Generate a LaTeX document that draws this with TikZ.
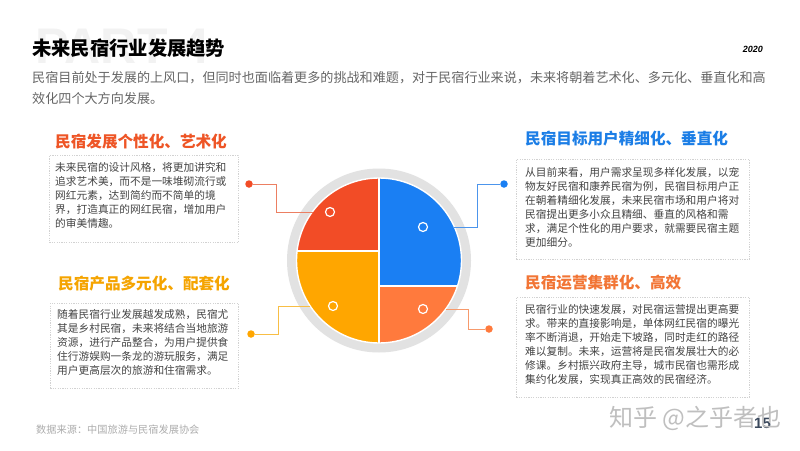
\documentclass[tikz,border=0pt]{standalone}
\usepackage{fontspec}
\setmainfont{Noto Sans CJK SC}
\newfontfamily\lat{Liberation Sans}
\definecolor{pred}{HTML}{F24C26}
\definecolor{pblue}{HTML}{1A7FF3}
\definecolor{pyellow}{HTML}{FFA600}
\definecolor{porange}{HTML}{FF7A3D}
\definecolor{cred}{HTML}{EC7F62}
\definecolor{cblue}{HTML}{4C95EC}
\definecolor{cyellow}{HTML}{F8BE45}
\definecolor{corange}{HTML}{F79A6C}
\definecolor{tred}{HTML}{EE5526}
\definecolor{tblue}{HTML}{1C7EE6}
\definecolor{tyellow}{HTML}{F5A400}
\definecolor{torange}{HTML}{F27535}
\definecolor{ringgray}{HTML}{E2E2E2}
\definecolor{bodygray}{HTML}{444444}
\definecolor{subgray}{HTML}{666666}
\definecolor{boxgray}{HTML}{D2D2D2}
\tikzset{
  body/.style={anchor=base west, inner sep=0pt, text=bodygray},
  sectitle/.style={anchor=base west, inner sep=0pt, font=\fontsize{15.6}{18}\selectfont\bfseries},
  boxst/.style={draw=boxgray, dash pattern=on 1.2pt off 1.2pt, line width=0.6pt, anchor=north west, inner sep=0pt},
  ringmark/.style={circle, draw=white, line width=1.2pt, minimum size=9pt, inner sep=0pt},
  dotmark/.style={circle, inner sep=0pt, minimum size=7.5pt},
  conn/.style={line width=1pt}
}
\newcommand{\bodytext}[1]{\parbox[t]{260pt}{\fontsize{10.7}{14}\selectfont #1}}
\begin{document}
\begin{tikzpicture}[x=1pt,y=-1pt]
\useasboundingbox (0,0) rectangle (800,450);
\fill[white] (0,0) rectangle (800,450);

% header
\node[anchor=base west, inner sep=0pt, text=black!5, font=\lat\fontsize{50}{50}\selectfont\bfseries] (part) at (35,63) {PART 4};
\node[anchor=base west, inner sep=0pt, font=\fontsize{19.3}{22}\selectfont\bfseries] (title) at (32,55.5) {未来民宿行业发展趋势};
\node[anchor=base east, inner sep=0pt, font=\lat\fontsize{9}{10}\selectfont\bfseries\itshape] (year) at (763,52) {2020};
\node[anchor=base west, inner sep=0pt, text=subgray] (sub) at (32,82) {\parbox[t]{760pt}{\fontsize{13.1}{21}\selectfont 民宿目前处于发展的上风口，但同时也面临着更多的挑战和难题，对于民宿行业来说，未来将朝着艺术化、多元化、垂直化和高\\效化四个大方向发展。}};

% pie
\coordinate (C) at (379,260.5);
\fill[ringgray] (C) circle (92pt);
\begin{scope}
\clip (C) circle (82.5pt);
\fill[pblue] (379,170) rectangle (470,286);
\fill[porange] (379,286) rectangle (470,350);
\fill[pred] (290,170) rectangle (379,251);
\fill[pyellow] (290,251) rectangle (379,350);
\draw[white, line width=1.6pt] (379,170) -- (379,350);
\draw[white, line width=1.6pt] (290,251) -- (379,251);
\draw[white, line width=1.6pt] (379,286) -- (470,286);
\end{scope}
\draw[white, line width=1.4pt] (C) circle (82.5pt);

\node[ringmark] (mr) at (330,212) {};
\node[ringmark] (mb) at (423,227) {};
\node[ringmark] (my) at (333,306) {};
\node[ringmark] (mo) at (423,309) {};

% connectors
\coordinate (er) at (313,212);
\coordinate (kr) at (276,212);
\coordinate (eb) at (454,227);
\coordinate (kb) at (477,227);
\coordinate (ey) at (310,306);
\coordinate (ky) at (278,306);
\coordinate (eo) at (446,309);
\coordinate (ko) at (468,309);

\node[dotmark, fill=pred] (dr) at (249,184) {};
\node[dotmark, fill=pblue] (db) at (504,184) {};
\node[dotmark, fill=pyellow] (dy) at (251,334) {};
\node[dotmark, fill=porange] (do) at (489,329) {};

\draw[conn, cred] (dr) -| (kr) -- (er);
\draw[conn, cblue] (eb) -- (kb) |- (db);
\draw[conn, cyellow] (dy) -| (ky) -- (ey);
\draw[conn, corange] (eo) -- (ko) |- (do);

% left top
\node[sectitle, text=tred] (t1) at (55,147) {民宿发展个性化、艺术化};
\node[boxst, minimum width=189pt, minimum height=87pt] (b1) at (49,155) {};
\node[body] (x1) at (55,171) {\bodytext{未来民宿的设计风格，将更加讲究和\\追求艺术美，而不是一味堆砌流行或\\网红元素，达到简约而不简单的境\\界，打造真正的网红民宿，增加用户\\的审美情趣。}};

% left bottom
\node[sectitle, text=tyellow] (t2) at (58,289) {民宿产品多元化、配套化};
\node[boxst, minimum width=188pt, minimum height=85pt] (b2) at (50,303) {};
\node[body] (x2) at (57,318) {\bodytext{随着民宿行业发展越发成熟，民宿尤\\其是乡村民宿，未来将结合当地旅游\\资源，进行产品整合，为用户提供食\\住行游娱购一条龙的游玩服务，满足\\用户更高层次的旅游和住宿需求。}};

% right top
\node[sectitle, text=tblue] (t3) at (525,144) {民宿目标用户精细化、垂直化};
\node[boxst, minimum width=233pt, minimum height=100pt] (b3) at (516,159) {};
\node[body] (x3) at (525,176) {\bodytext{从目前来看，用户需求呈现多样化发展，以宠\\物友好民宿和康养民宿为例，民宿目标用户正\\在朝着精细化发展，未来民宿市场和用户将对\\民宿提出更多小众且精细、垂直的风格和需\\求，满足个性化的用户要求，就需要民宿主题\\更加细分。}};

% right bottom
\node[sectitle, text=torange] (t4) at (525,288) {民宿运营集群化、高效};
\node[boxst, minimum width=233pt, minimum height=100pt] (b4) at (516,297) {};
\node[body] (x4) at (525,313) {\bodytext{民宿行业的快速发展，对民宿运营提出更高要\\求。带来的直接影响是，单体网红民宿的曝光\\率不断消退，开始走下坡路，同时走红的路径\\难以复制。未来，运营将是民宿发展壮大的必\\修课。乡村振兴政府主导，城市民宿也需形成\\集约化发展，实现真正高效的民宿经济。}};

% footer
\node[anchor=base west, inner sep=0pt, text=black!32, font=\fontsize{10.2}{12}\selectfont] (src) at (36,433) {数据来源：中国旅游与民宿发展协会};
\node[anchor=base west, inner sep=0pt, text={rgb,255:red,58;green,72;blue,92}, font=\lat\fontsize{15}{16}\selectfont\bfseries] (pg) at (754,428) {15};
\node[anchor=base west, inner sep=0pt, text=black!25, font=\fontsize{24}{26}\selectfont] (wm) at (609,426) {知乎 @之乎者也};
\end{tikzpicture}
\end{document}
